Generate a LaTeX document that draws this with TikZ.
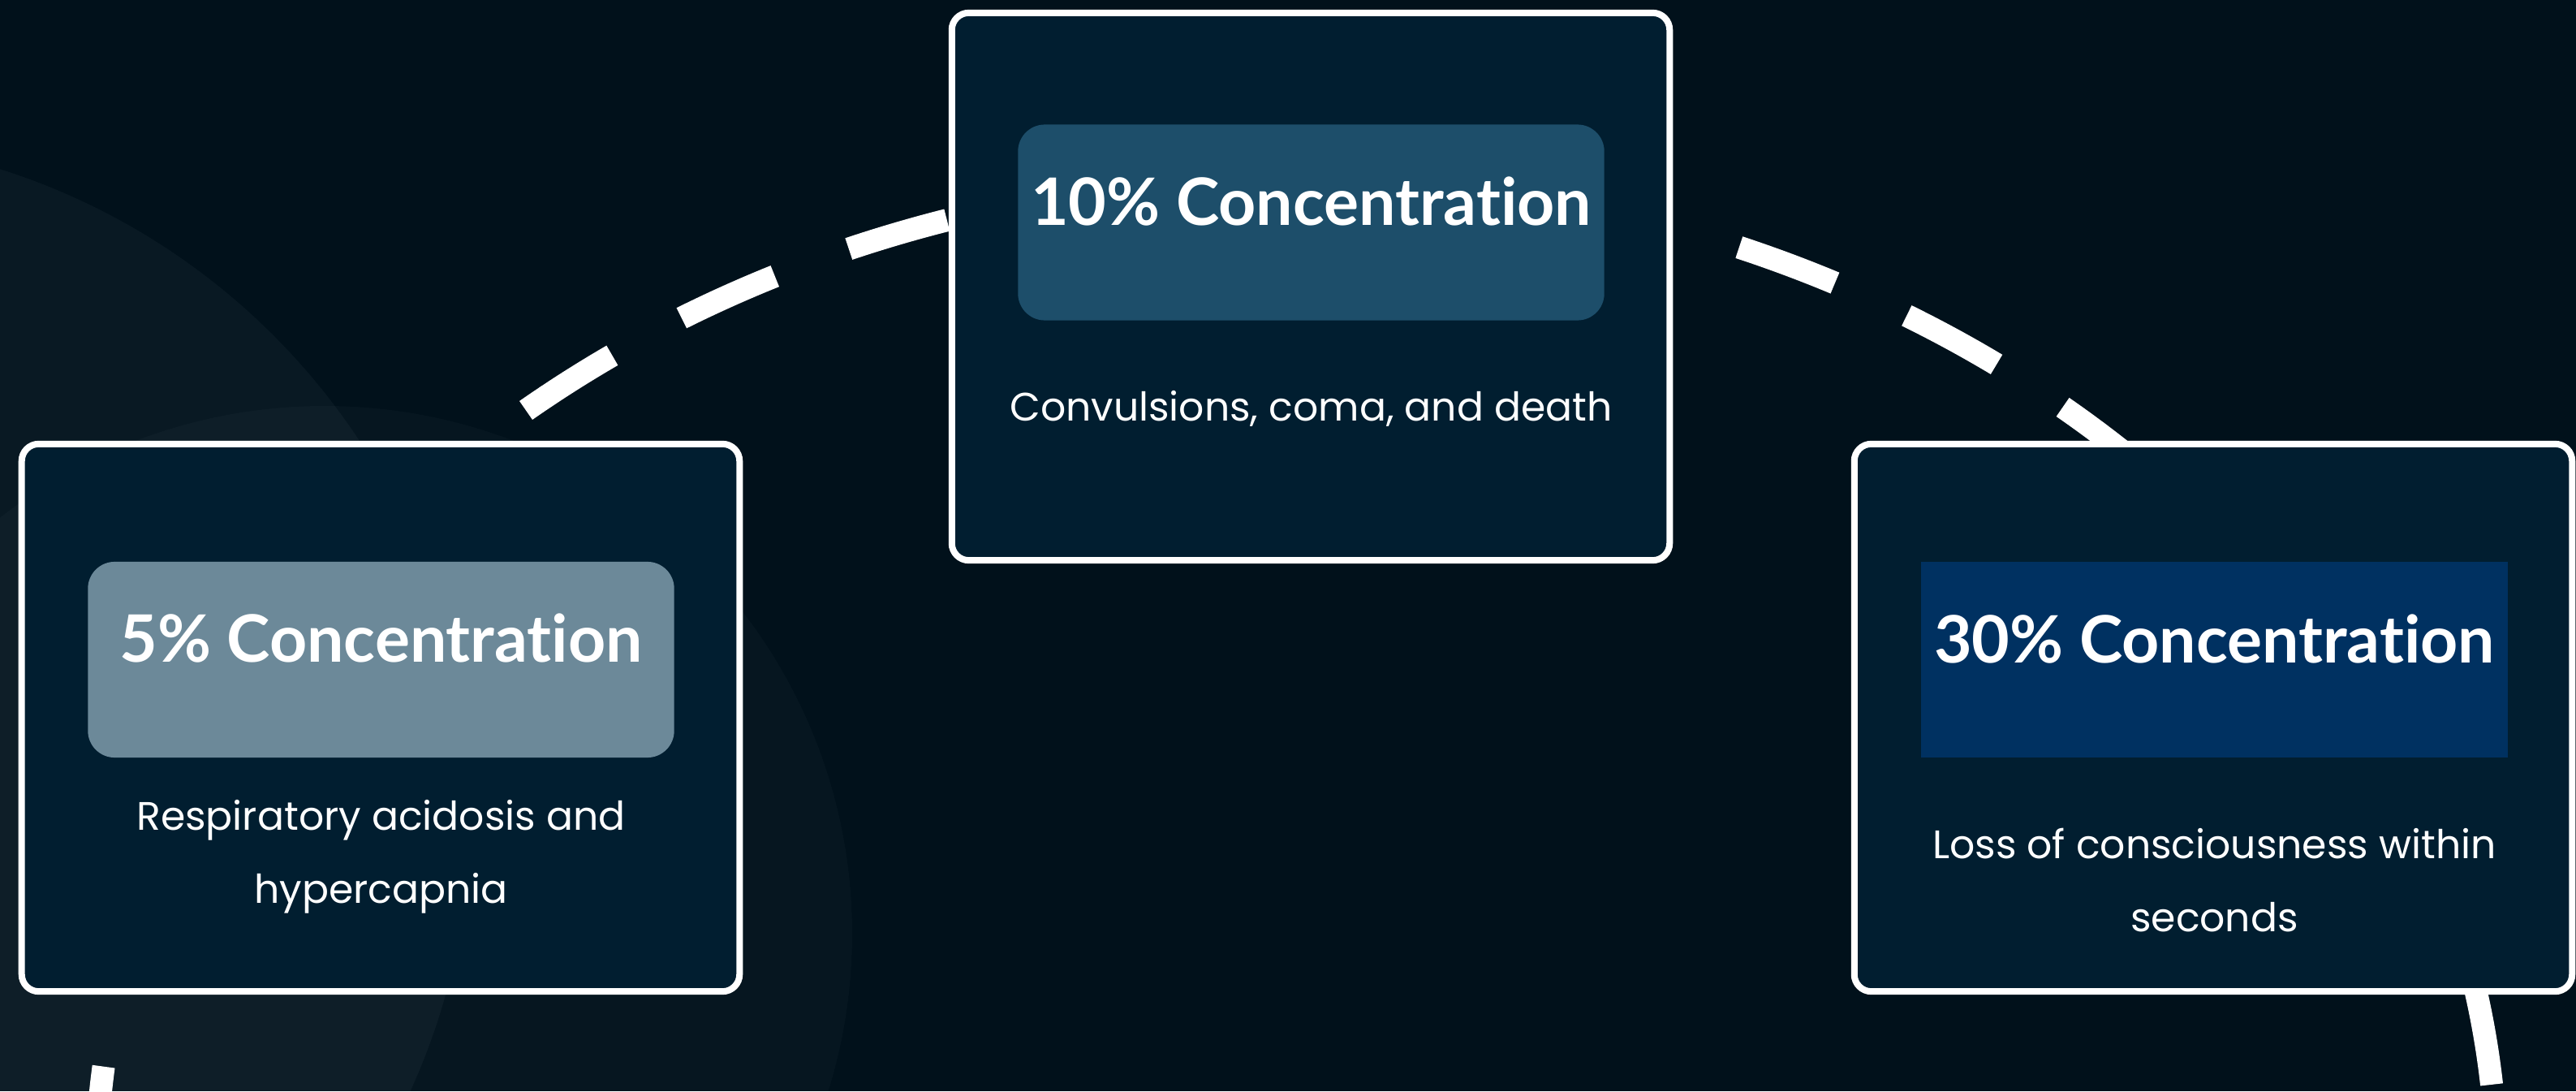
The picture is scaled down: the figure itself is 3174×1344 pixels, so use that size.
\documentclass[tikz,border=0pt]{standalone}
\usepackage{fontspec}
\setmainfont{Poppins}
\newfontfamily\headfont{Lato}[Ligatures=NoCommon]

\definecolor{bgnight}{RGB}{1,17,27}
\definecolor{cardfill}{RGB}{1,30,48}
\definecolor{headsoft}{RGB}{108,137,153}
\definecolor{headmid}{RGB}{29,78,106}
\definecolor{headdeep}{RGB}{0,49,97}

\tikzset{
    card/.style={draw=white, line width=0.08cm, fill=cardfill, rounded corners=0.21cm,
        minimum width=8.84cm, minimum height=6.74cm, inner sep=0pt},
    headbox/.style={minimum width=7.22cm, minimum height=2.41cm, inner sep=0pt},
    headtext/.style={text=white, anchor=base, inner sep=0pt,
        font=\headfont\bfseries\fontsize{22.9}{27}\selectfont},
    bodytext/.style={text=white, anchor=north, inner sep=0pt, align=center,
        font=\fontsize{13.9}{25.6}\selectfont},
    ring/.style={draw=white, line width=0.28cm, dash pattern=on 1.26cm off 0.97cm},
    glow/.style={fill=white, fill opacity=0.035}
}

\begin{document}
\begin{tikzpicture}[x=0.01cm, y=0.01cm]
            \useasboundingbox (0,0) rectangle (3174,1344);
            \fill[bgnight] (0,0) rectangle (3174,1344);

            \begin{scope}
                \clip (0,0) rectangle (3174,1344);
                \fill[glow] (-250,344) circle (830);
                \fill[glow, fill opacity=0.025] (400,194) circle (650);
            \end{scope}

            \coordinate (o) at (1597.5,-106);
            \path (o) ++(129.94:1479 and 1232) coordinate (ringstart);

            \draw[ring] (ringstart) arc[start angle=129.94, end angle=-30, x radius=1479, y radius=1232];
            \draw[ring, dash phase=1.26cm] (ringstart) arc[start angle=129.94, end angle=210, x radius=1479, y radius=1232];

            \node[card] (cardlow) at (469,460) {};
            \node[card] (cardmid) at (1615,991) {};
            \node[card] (cardhigh) at (2727,460) {};

            \node[headbox, fill=headsoft, rounded corners=0.33cm] (headlow) at (469.5,531.5) {};
            \node[headbox, fill=headmid, rounded corners=0.33cm] (headmid) at (1615.5,1070) {};
            \node[headbox, fill=headdeep] (headhigh) at (2728.5,531.5) {};

            \node[headtext] (titlelow) at (469.5,529) {5\% Concentration};
            \node[headtext] (titlemid) at (1615.5,1067) {10\% Concentration};
            \node[headtext] (titlehigh) at (2728.5,528) {30\% Concentration};

            \node[bodytext] (textlow) at (469.5,385) {\strut Respiratory acidosis and\\hypercapnia};
            \node[bodytext] (textmid) at (1615.5,889) {\strut Convulsions, coma, and death};
            \node[bodytext] (texthigh) at (2728.5,350) {\strut Loss of consciousness within\\seconds};
        \end{tikzpicture}
\end{document}
